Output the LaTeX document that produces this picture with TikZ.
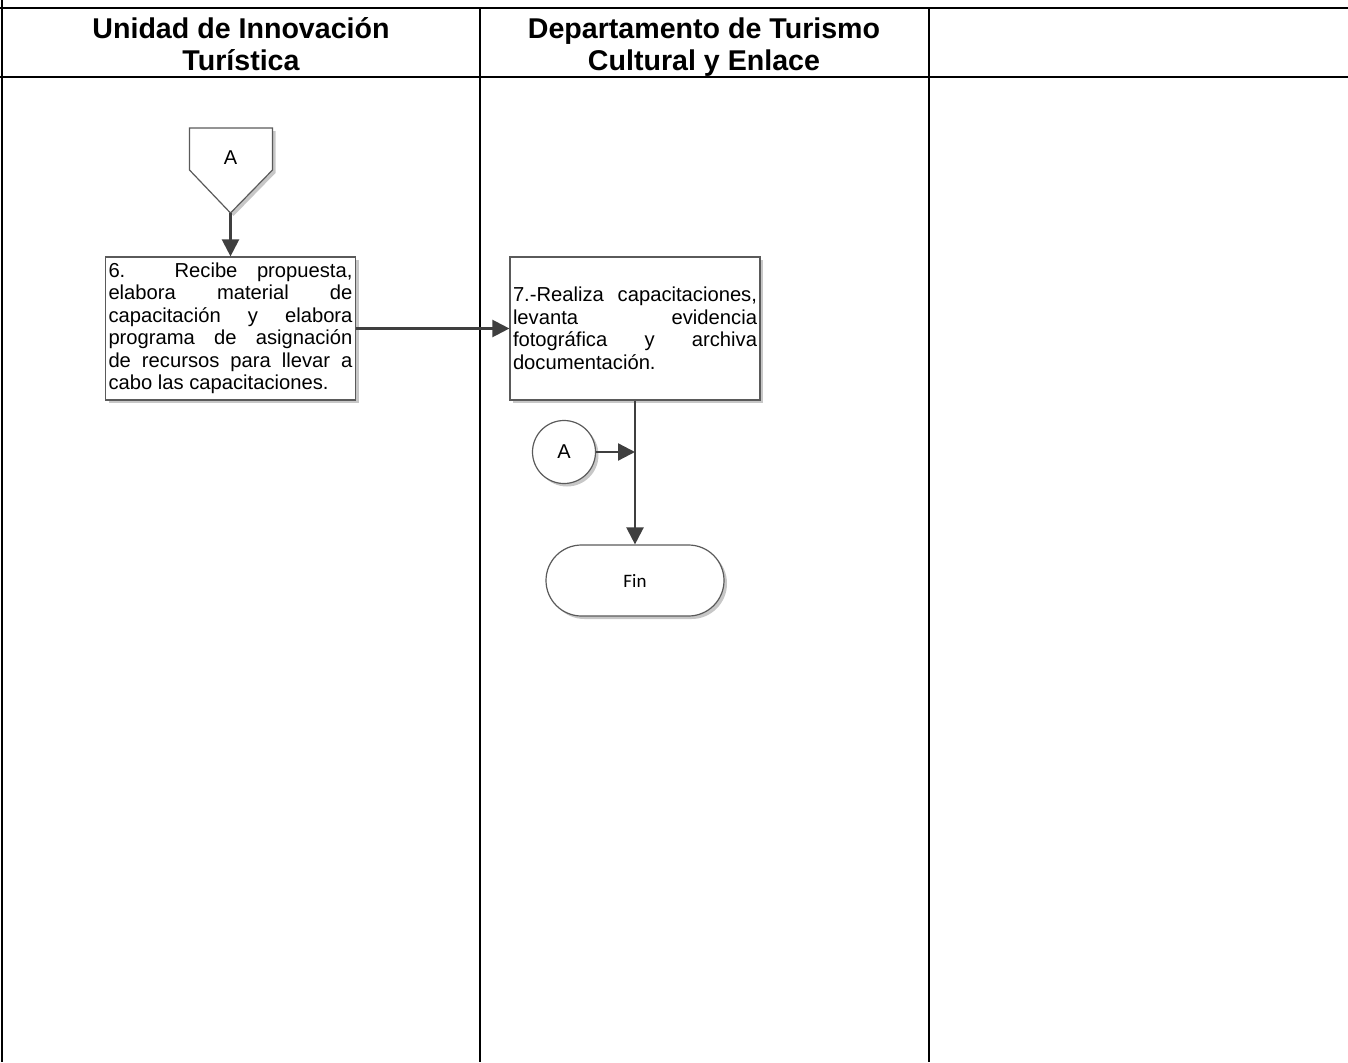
\documentclass[tikz,border=0pt]{standalone}
\usepackage{fontspec}
\setmainfont{Liberation Sans}
\newfontfamily\calfont{Carlito}
\usetikzlibrary{arrows.meta,shapes.misc,shapes.geometric,shadows}
\definecolor{conncol}{HTML}{3F3F3F}
\definecolor{boxcol}{HTML}{5A5A5A}
\newcommand\nohyph{\hyphenpenalty=10000\relax\exhyphenpenalty=10000\relax}
\tikzset{
  lane/.style={line width=2.4pt, black},
  lanethin/.style={line width=1.8pt, black},
  hdr/.style={align=center, inner sep=0pt, font=\bfseries\fontsize{28.6}{32}\selectfont},
  shad/.style={drop shadow={shadow xshift=3pt, shadow yshift=-3pt, fill=black!22, opacity=1}},
  procbox/.style={draw=boxcol, line width=1.2pt, fill=white, shad, minimum width=250pt, minimum height=143pt,
    inner sep=0pt, text width=244pt, align=justify,
    font=\fontsize{20.2}{22.5}\selectfont\nohyph},
  conn/.style={draw=conncol, line width=2.3pt, -{Triangle[length=17pt,width=17pt]}},
  onpage/.style={circle, draw=boxcol, line width=1.2pt, fill=white, shad, minimum size=63pt, inner sep=0pt, font=\fontsize{20}{22}\selectfont},
  term/.style={rounded rectangle, draw=boxcol, line width=1.2pt, fill=white, shad, minimum width=178pt, minimum height=71pt, inner sep=0pt, font=\calfont\fontsize{19}{22}\selectfont},
  pentlabel/.style={inner sep=0pt, font=\fontsize{20}{22}\selectfont}
}
\begin{document}
\begin{tikzpicture}[x=1pt,y=-1pt]
\useasboundingbox (0,0) rectangle (1348,1062);
% swimlane frame
\draw[lane] (0,8) -- (1348,8);
\draw[lane] (0,77) -- (1348,77);
\draw[lanethin] (2,0) -- (2,1062);
\draw[lanethin] (480,8) -- (480,1062);
\draw[lane] (929,8) -- (929,1062);
\node[hdr] (h1) at (241,44) {Unidad de Innovación\\Turística};
\node[hdr] (h2) at (704,47) {Departamento de Turismo\\Cultural y Enlace};
% off-page connector A
\fill[black!22] (192.5,131) -- (275.5,131) -- (275.5,173) -- (233.5,216) -- (192.5,173) -- cycle;
\draw[boxcol, line width=1.2pt, fill=white] (189.5,128) -- (272.5,128) -- (272.5,170) -- (230.5,213) -- (189.5,170) -- cycle;
\node[pentlabel] (pA) at (230.5,158) {A};
\coordinate (pAtip) at (230.5,213);
% process boxes
\node[procbox] (b6) at (230.5,328.5) {6. Recibe propuesta,\linebreak elabora material de\linebreak capacitación y elabora\linebreak programa de asignación\linebreak de recursos para llevar a\linebreak cabo las capacitaciones.};
\node[procbox] (b7) at (635,328.5) {7.-Realiza capacitaciones,\linebreak levanta evidencia\linebreak fotográfica y archiva\linebreak documentación.};
% on-page connector and end
\node[onpage] (cA) at (564,452) {A};
\node[term] (fin) at (635,580.5) {Fin};
% connectors
\draw[conn] (pAtip) -- (b6.north);
\draw[conn] (b6.east) -- (b7.west);
\draw[conn] (b7.south) -- (fin.north);
\coordinate (join) at (cA.east -| b7.south);
\draw[conn] (cA.east) -- (join);
\end{tikzpicture}
\end{document}
